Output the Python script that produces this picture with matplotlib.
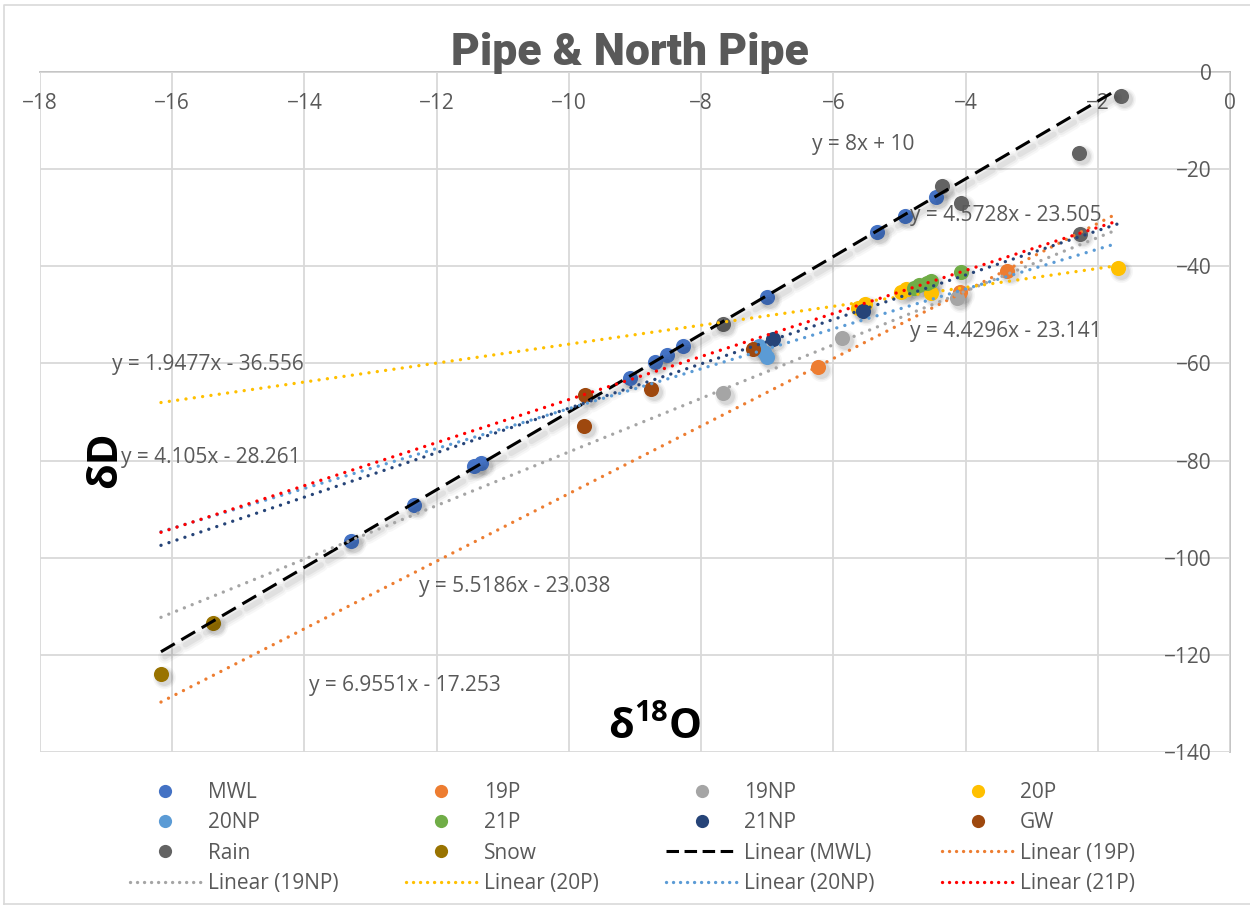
import matplotlib
matplotlib.use("Agg")
import matplotlib.pyplot as plt
import matplotlib.transforms as mtransforms
from matplotlib.lines import Line2D

plt.rcParams['font.family'] = ['Open Sans', 'DejaVu Sans']
plt.rcParams['lines.scale_dashes'] = False
plt.rcParams['mathtext.fontset'] = 'custom'
plt.rcParams['mathtext.rm'] = 'Open Sans'
plt.rcParams['mathtext.bf'] = 'Open Sans:bold'

# ---- isotope samples (δ18O, δD) ----
mwl_x = [-13.29, -12.35, -11.43, -11.33, -9.07, -8.70, -8.51, -8.27, -7.00, -5.34, -4.92, -4.44]
mwl_y = [-96.6, -89.2, -81.1, -80.5, -62.9, -59.8, -58.3, -56.4, -46.4, -32.9, -29.6, -25.7]
p19_x = [-6.23, -4.08, -3.38]
p19_y = [-60.7, -45.2, -41.0]
np19_x = [-7.67, -5.87, -4.13]
np19_y = [-66.0, -54.8, -46.6]
p20_x = [-5.63, -5.52, -4.97, -4.90, -4.52, -1.69]
p20_y = [-48.6, -47.8, -45.3, -44.6, -45.6, -40.3]
np20_x = [-7.12, -7.05, -7.00]
np20_y = [-56.4, -57.6, -58.7]
p21_x = [-4.78, -4.70, -4.58, -4.53, -4.07]
p21_y = [-44.5, -43.9, -43.4, -43.0, -41.1]
np21_x = [-6.91, -5.55]
np21_y = [-55.0, -49.2]
gw_x = [-9.76, -8.76, -9.77, -7.22]
gw_y = [-66.5, -65.3, -72.9, -57.0]
rain_x = [-7.67, -4.35, -4.07, -2.28, -2.27, -1.65]
rain_y = [-51.9, -23.5, -27.0, -16.6, -33.4, -4.9]
snow_x = [-16.17, -15.38]
snow_y = [-123.9, -113.4]

series_names = ['MWL', '19P', '19NP', '20P', '20NP', '21P', '21NP', 'GW', 'Rain', 'Snow']
series_x = [mwl_x, p19_x, np19_x, p20_x, np20_x, p21_x, np21_x, gw_x, rain_x, snow_x]
series_y = [mwl_y, p19_y, np19_y, p20_y, np20_y, p21_y, np21_y, gw_y, rain_y, snow_y]
series_colors = ['#4472C4', '#ED7D31', '#A5A5A5', '#FFC000', '#5B9BD5',
                 '#70AD47', '#264478', '#9E480E', '#636363', '#997300']

# ---- linear trendlines: y = slope * x + intercept ----
trend_names = ['MWL', '19P', '19NP', '20P', '20NP', '21P', '21NP']
trend_slopes = [8.0, 6.9551, 5.5186, 1.9477, 4.105, 4.4296, 4.5728]
trend_intercepts = [10.0, -17.253, -23.038, -36.556, -28.261, -23.141, -23.505]
trend_range = [-16.17, -1.70]
trend_colors = ['black', '#ED7D31', '#A5A5A5', '#FFC000', '#5B9BD5', '#FF0000', '#264478']
trend_in_legend = [True, True, True, True, True, True, False]

# positions of the equation labels (data coordinates)
eq_pos = [(-5.55, -15.0), (-12.48, -126.4), (-10.82, -106.0), (-15.46, -60.3),
          (-15.42, -79.3), (-3.39, -53.5), (-3.39, -29.6)]

TXT = '#595959'
GRID = '#D9D9D9'
FS = 15

fig = plt.figure(figsize=(12.5, 9.07), dpi=100)
ax = fig.add_axes([0.032, 0.1709, 0.952, 0.7497])
ax.set_xlim(-18, 0)
ax.set_ylim(-140, 0)
ax.set_xticks(range(-18, 1, 2))
ax.set_yticks(range(-140, 1, 20))
ax.grid(True, color=GRID, lw=1.3, zorder=0)
ax.set_axisbelow(True)
for s in ('top', 'right'):
    ax.spines[s].set_visible(False)
ax.spines['bottom'].set_position(('data', 0))
ax.spines['left'].set_position(('data', 0))
for s in ('bottom', 'left'):
    ax.spines[s].set_color('#BFBFBF')
    ax.spines[s].set_linewidth(1.3)
    ax.spines[s].set_zorder(0.5)
ax.tick_params(axis='both', length=0, labelsize=FS, labelcolor=TXT)
ax.tick_params(axis='x', pad=15)
ax.tick_params(axis='y', pad=13)

MS = 118  # marker area in points^2

# soft drop shadows under markers
shadow_tr = mtransforms.offset_copy(ax.transData, fig=fig, x=3, y=-3, units='dots')
for xs, ys in zip(series_x, series_y):
    for k, a in [(2.3, 0.035), (1.7, 0.05), (1.25, 0.07)]:
        ax.scatter(xs, ys, s=MS * k, color='black', alpha=a, lw=0,
                   transform=shadow_tr, zorder=1)

handles = {}
for name, xs, ys, c in zip(series_names, series_x, series_y, series_colors):
    ax.scatter(xs, ys, s=MS, color=c, lw=0, zorder=2)
    handles[name] = Line2D([], [], ls='none', marker='o', ms=9.5, color=c, mew=0)

# trendlines
line_shadow_tr = mtransforms.offset_copy(ax.transData, fig=fig, x=4, y=-5, units='dots')
trend_handles = []
for i, (name, m, b, c) in enumerate(zip(trend_names, trend_slopes, trend_intercepts, trend_colors)):
    xs = trend_range
    ys = [m * v + b for v in xs]
    if name == 'MWL':
        ls = (0, (11.5, 5.5))
        for lw, a in [(10, 0.03), (7, 0.04), (4, 0.05)]:
            ax.plot(xs, ys, color='black', lw=lw, alpha=a, ls=ls,
                    transform=line_shadow_tr, zorder=3, dash_capstyle='round')
        ax.plot(xs, ys, color=c, lw=2.2, ls=ls, dash_capstyle='butt', zorder=4 + i)
        h = Line2D([], [], color=c, lw=2.2, ls=(0, (9, 4)))
    else:
        ls = (0, (0.05, 6.0))
        ax.plot(xs, ys, color=c, lw=2.4, ls=ls, dash_capstyle='round', zorder=4 + i)
        h = Line2D([], [], color=c, lw=2.4, ls=(0, (0.05, 5.0)), dash_capstyle='round')
    if trend_in_legend[i]:
        trend_handles.append((f'Linear ({name})', h))
    if b >= 0:
        eq = f'y = {m:g}x + {b:g}'
    else:
        eq = f'y = {m:g}x - {abs(b):g}'
    ax.text(eq_pos[i][0], eq_pos[i][1], eq, ha='center', va='center',
            fontsize=FS, color=TXT, zorder=20)

# axis titles
ax.text(-17.0, -79.9, 'δD', rotation=90, ha='center', va='center',
        fontsize=30, fontweight='bold', color='black', zorder=21)
ax.text(-8.70, -135.0, r'$\mathbf{δ^{18}O}$', ha='center', va='center',
        fontsize=30, color='black', zorder=21)

# chart title
fig.text(0.504, 1 - 53 / 907, 'Pipe & North Pipe', ha='center', va='center',
         fontsize=32, fontweight=900, color=TXT, family=['Roboto', 'DejaVu Sans'])

# legend, filled row by row
entries = [(n, handles[n]) for n in series_names] + trend_handles
order = [i for c in range(4) for i in range(c, len(entries), 4)]
leg = fig.legend([entries[i][1] for i in order], [entries[i][0] for i in order],
                 ncol=4, loc='upper left', bbox_to_anchor=(130 / 1250, 1 - 782 / 907),
                 frameon=False, fontsize=FS, handlelength=3.4, handletextpad=0.33,
                 columnspacing=3.25, labelspacing=0.45, borderpad=0, borderaxespad=0)
for t in leg.get_texts():
    t.set_color(TXT)

# chart area border
fig.add_artist(Line2D([0.003, 0.003, 1.0], [0.003, 0.995, 0.995], transform=fig.transFigure,
                      color=GRID, lw=1.2))
fig.add_artist(Line2D([0.003, 1.0], [0.003, 0.003], transform=fig.transFigure,
                      color=GRID, lw=1.2))

fig.savefig('out.png', dpi=100, facecolor='white')
